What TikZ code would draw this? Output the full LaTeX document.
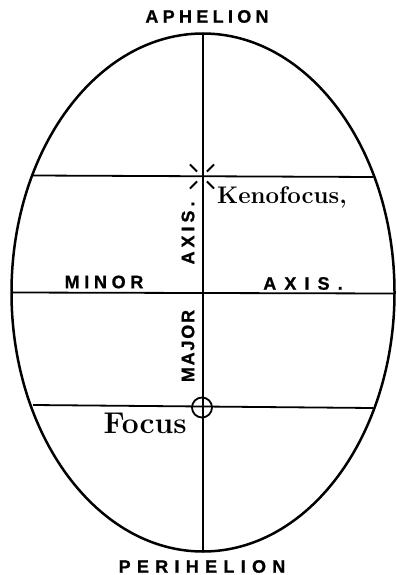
\documentclass[tikz,border=0pt]{standalone}
\usepackage{fontspec}
\usetikzlibrary{calc}
\newcommand\mycapsfont[1]{\fontspec{Liberation Sans}[UprightFont={* Bold},LetterSpace=#1,FakeBold=1]}
\begin{document}
\begin{tikzpicture}[x=1pt,y=-1pt,
  caplabel/.style={font={\mycapsfont{#1}\fontsize{18}{18}\selectfont}, inner sep=0pt},
  serlabel/.style={font={\bfseries\fontsize{#1}{#1}\selectfont}, inner sep=0pt},
  rule/.style={line width=1.8pt},
  outline/.style={line width=2.5pt}]
\useasboundingbox (0,0) rectangle (396,575);
\coordinate (C) at (203,292.5);
\draw[outline] (C) ellipse [x radius=191.5, y radius=259];
% major axis
\coordinate (top) at (203,34);
\coordinate (bot) at (203,551);
\draw[rule] (top) -- (bot);
% minor axis and chords
\coordinate (ml) at (12,292.5);
\coordinate (mr) at (394,293.5);
\draw[rule] (ml) -- (mr);
\coordinate (ul) at (33,175.5);
\coordinate (ur) at (373,177);
\draw[rule] (ul) -- (ur);
\coordinate (ll) at (33,405);
\coordinate (lr) at (373,408);
\draw[rule] (ll) -- (lr);
% kenofocus
\coordinate (K) at (202,176.5);
\foreach \a in {45,135,225,315}
  \draw[line width=2pt] ($(K)+(\a:7)$) -- ($(K)+(\a:17)$);
% focus
\node[circle, draw, line width=1.8pt, minimum size=20pt, inner sep=0pt] (F) at (202,407.5) {};
% labels
\node[caplabel=24] (aph) at (207,16.5) {APHELION};
\node[caplabel=35] (per) at (202,566.5) {PERIHELION};
\node[caplabel=26] (minor) at (104,282) {MINOR};
\node[caplabel=45] (axis) at (303,283.5) {AXIS.};
\node[caplabel=22, rotate=90] (vaxis) at (188,233) {AXIS.};
\node[caplabel=10, rotate=90] (major) at (188,346) {MAJOR};
\node[serlabel=24, anchor=base west] (keno) at (217,203) {Kenofocus,};
\node[serlabel=30, anchor=base east] (foc) at (187,433) {Focus};
\end{tikzpicture}
\end{document}
